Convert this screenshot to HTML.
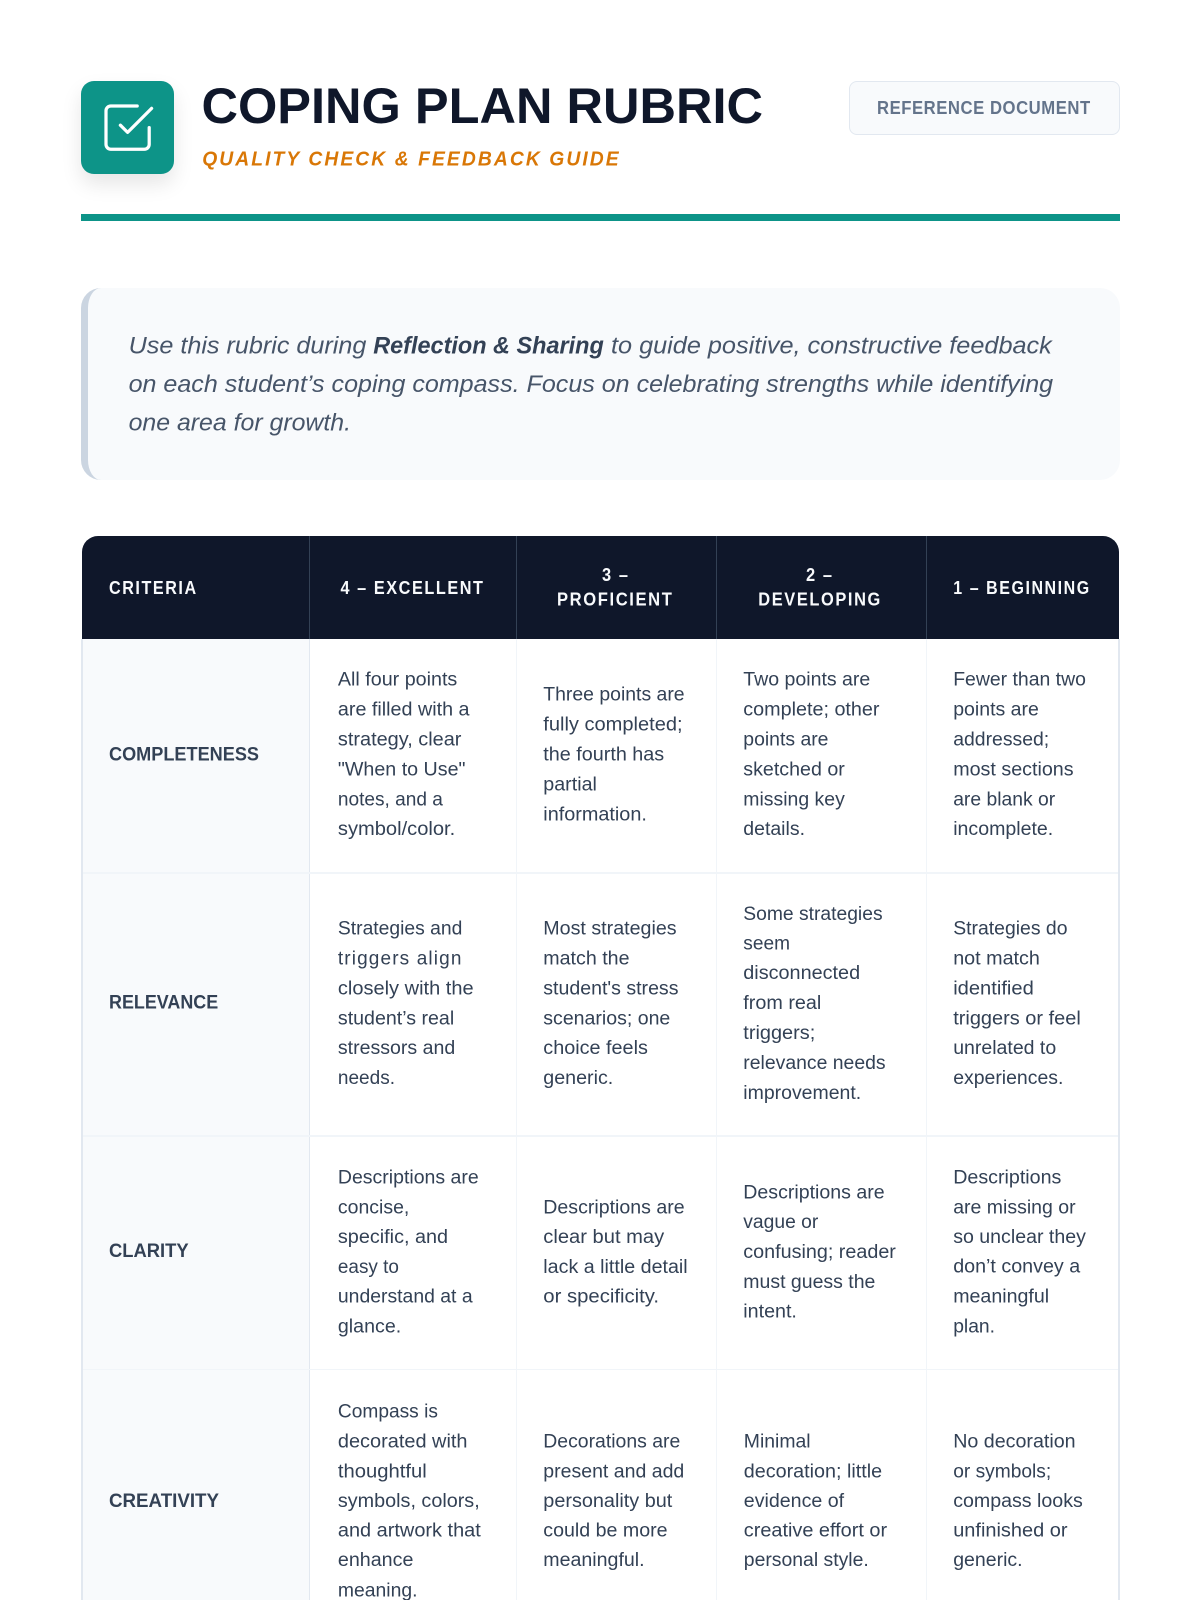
<!DOCTYPE html>
<html lang="en"><head><meta charset="utf-8"><title>Coping Plan Rubric</title>
<style>
html,body{margin:0;padding:0;background:#fff;width:1200px;height:1600px;overflow:hidden}
#p{position:relative;width:1200px;height:1600px;overflow:hidden}
#p div{position:absolute;box-sizing:border-box}
svg{position:absolute;left:0;top:0}
text{font-family:"Liberation Sans",sans-serif}
.b{font-size:19px;fill:#334155}
.l{font-size:19px;font-weight:700;fill:#334155}
.h{font-size:18.5px;font-weight:700;fill:#f8fafc;letter-spacing:1.8px}
.i{font-size:24px;font-style:italic;fill:#475569}
</style></head><body><div id="p">
<div style="left:80.5px;top:80.5px;width:93px;height:93px;border-radius:13px;background:#0d9488;box-shadow:0 10px 20px rgba(0,0,0,.1)"></div>
<div style="left:849px;top:81px;width:271px;height:54px;border-radius:8px;background:#f8fafc;border:1.5px solid #e2e8f0"></div>
<div style="left:80.5px;top:214px;width:1039.5px;height:6.5px;background:#0d9488"></div>
<div style="left:81px;top:287.5px;width:1039px;height:192.5px;border-radius:20px;background:#f8fafc;border-left:7px solid #cbd5e1"></div>
<div style="left:82px;top:638px;width:1037px;height:962px;background:#fff"></div>
<div style="left:82px;top:638px;width:227px;height:962px;background:#f8fafc"></div>
<div style="left:82px;top:535.5px;width:1037px;height:103px;border-radius:16px 16px 0 0;background:#0f172a"></div>
<div style="left:309px;top:536px;width:1px;height:102.5px;background:#334155"></div>
<div style="left:516px;top:536px;width:1px;height:102.5px;background:#334155"></div>
<div style="left:716px;top:536px;width:1px;height:102.5px;background:#334155"></div>
<div style="left:926px;top:536px;width:1px;height:102.5px;background:#334155"></div>
<div style="left:81px;top:638.5px;width:1.5px;height:962px;background:#e2e8f0"></div>
<div style="left:1118px;top:638.5px;width:1.5px;height:962px;background:#e2e8f0"></div>
<div style="left:308.7px;top:638.5px;width:1.5px;height:962px;background:#e2e8f0"></div>
<div style="left:515.7px;top:638.5px;width:1.5px;height:962px;background:#f1f5f9"></div>
<div style="left:715.7px;top:638.5px;width:1.5px;height:962px;background:#f1f5f9"></div>
<div style="left:925.7px;top:638.5px;width:1.5px;height:962px;background:#f1f5f9"></div>
<div style="left:83px;top:872px;width:1035px;height:1.5px;background:#f1f5f9"></div>
<div style="left:83px;top:1135.3px;width:1035px;height:1.5px;background:#f1f5f9"></div>
<div style="left:83px;top:1368.5px;width:1035px;height:1.5px;background:#f1f5f9"></div>
<svg width="1200" height="1600" viewBox="0 0 1200 1600">
<g transform="translate(98.8,98.8) scale(2.4)" fill="none" stroke="#fff" stroke-width="1.35" stroke-linecap="round" stroke-linejoin="round"><polyline points="9 11 12 14 22 4"/><path d="M21 12v7a2 2 0 0 1-2 2H5a2 2 0 0 1-2-2V5a2 2 0 0 1 2-2h11"/></g>
<text x="201.5" y="123" textLength="561.5" lengthAdjust="spacingAndGlyphs" font-size="50" font-weight="700" fill="#0f172a">COPING PLAN RUBRIC</text>
<text x="202.2" y="165.7" textLength="418.5" lengthAdjust="spacingAndGlyphs" font-size="20.5" font-weight="700" font-style="italic" fill="#d97706" style="letter-spacing:2.2px">QUALITY CHECK &amp; FEEDBACK GUIDE</text>
<text x="877" y="114" textLength="213.7" lengthAdjust="spacingAndGlyphs" font-size="18.5" font-weight="700" fill="#64748b" style="letter-spacing:.6px">REFERENCE DOCUMENT</text>

<text class="i" x="128.6" y="353.3" textLength="237.8" lengthAdjust="spacingAndGlyphs">Use this rubric during</text>
<text class="i" x="373.2" y="353.3" textLength="230.6" lengthAdjust="spacingAndGlyphs" font-weight="700" style="fill:#334155">Reflection &amp; Sharing</text>
<text class="i" x="611" y="353.3" textLength="440.8" lengthAdjust="spacingAndGlyphs">to guide positive, constructive feedback</text>
<text class="i" x="128.6" y="392" textLength="924.5" lengthAdjust="spacingAndGlyphs">on each student’s coping compass. Focus on celebrating strengths while identifying</text>
<text class="i" x="128.6" y="430.5" textLength="222.4" lengthAdjust="spacingAndGlyphs">one area for growth.</text>

<text class="h" x="109" y="594" textLength="88.7" lengthAdjust="spacingAndGlyphs">CRITERIA</text>
<text class="h" x="340.5" y="594" textLength="144" lengthAdjust="spacingAndGlyphs">4 – EXCELLENT</text>
<text class="h" x="602" y="581" textLength="27.6" lengthAdjust="spacingAndGlyphs">3 –</text>
<text class="h" x="557" y="605.6" textLength="116.5" lengthAdjust="spacingAndGlyphs">PROFICIENT</text>
<text class="h" x="806" y="581" textLength="27.7" lengthAdjust="spacingAndGlyphs">2 –</text>
<text class="h" x="758.3" y="605.6" textLength="123.6" lengthAdjust="spacingAndGlyphs">DEVELOPING</text>
<text class="h" x="953.3" y="594" textLength="137.4" lengthAdjust="spacingAndGlyphs">1 – BEGINNING</text>

<text class="l" x="109" y="760.6" textLength="150" lengthAdjust="spacingAndGlyphs">COMPLETENESS</text>
<text class="l" x="109" y="1008.6" textLength="109.2" lengthAdjust="spacingAndGlyphs">RELEVANCE</text>
<text class="l" x="109" y="1257" textLength="79.6" lengthAdjust="spacingAndGlyphs">CLARITY</text>
<text class="l" x="109" y="1507" textLength="110" lengthAdjust="spacingAndGlyphs">CREATIVITY</text>

<g transform="translate(-0.4,-0.7)">
<text class="b" x="338.3" y="686" textLength="119.4" lengthAdjust="spacingAndGlyphs">All four points</text>
<text class="b" x="338.3" y="716" textLength="131.6" lengthAdjust="spacingAndGlyphs">are filled with a</text>
<text class="b" x="338.3" y="746" textLength="123.5" lengthAdjust="spacingAndGlyphs">strategy, clear</text>
<text class="b" x="338.3" y="776" textLength="127.6" lengthAdjust="spacingAndGlyphs">"When to Use"</text>
<text class="b" x="338.3" y="806" textLength="105" lengthAdjust="spacingAndGlyphs">notes, and a</text>
<text class="b" x="338.3" y="835.8" textLength="117.3" lengthAdjust="spacingAndGlyphs">symbol/color.</text>

<text class="b" x="543.7" y="701" textLength="141.3" lengthAdjust="spacingAndGlyphs">Three points are</text>
<text class="b" x="543.7" y="731" textLength="139.3" lengthAdjust="spacingAndGlyphs">fully completed;</text>
<text class="b" x="543.7" y="761" textLength="120.9" lengthAdjust="spacingAndGlyphs">the fourth has</text>
<text class="b" x="543.7" y="791" textLength="53.6" lengthAdjust="spacingAndGlyphs">partial</text>
<text class="b" x="543.7" y="821" textLength="103.6" lengthAdjust="spacingAndGlyphs">information.</text>

<text class="b" x="743.7" y="686" textLength="127" lengthAdjust="spacingAndGlyphs">Two points are</text>
<text class="b" x="743.7" y="716" textLength="136.2" lengthAdjust="spacingAndGlyphs">complete; other</text>
<text class="b" x="743.7" y="746" textLength="85.2" lengthAdjust="spacingAndGlyphs">points are</text>
<text class="b" x="743.7" y="776" textLength="101.5" lengthAdjust="spacingAndGlyphs">sketched or</text>
<text class="b" x="743.7" y="806" textLength="101.5" lengthAdjust="spacingAndGlyphs">missing key</text>
<text class="b" x="743.7" y="835.8" textLength="61.7" lengthAdjust="spacingAndGlyphs">details.</text>

<text class="b" x="953.6" y="686" textLength="132.7" lengthAdjust="spacingAndGlyphs">Fewer than two</text>
<text class="b" x="953.6" y="716" textLength="85.7" lengthAdjust="spacingAndGlyphs">points are</text>
<text class="b" x="953.6" y="746" textLength="96" lengthAdjust="spacingAndGlyphs">addressed;</text>
<text class="b" x="953.6" y="776" textLength="120.4" lengthAdjust="spacingAndGlyphs">most sections</text>
<text class="b" x="953.6" y="806" textLength="102" lengthAdjust="spacingAndGlyphs">are blank or</text>
<text class="b" x="953.6" y="835.8" textLength="100" lengthAdjust="spacingAndGlyphs">incomplete.</text>

<text class="b" x="338.3" y="935" textLength="124.5" lengthAdjust="spacingAndGlyphs">Strategies and</text>
<text class="b" x="338.3" y="965" textLength="123.5" lengthAdjust="spacing">triggers align</text>
<text class="b" x="338.3" y="995" textLength="135.7" lengthAdjust="spacingAndGlyphs">closely with the</text>
<text class="b" x="338.3" y="1025" textLength="116.3" lengthAdjust="spacingAndGlyphs">student’s real</text>
<text class="b" x="338.3" y="1054.8" textLength="117.3" lengthAdjust="spacingAndGlyphs">stressors and</text>
<text class="b" x="338.3" y="1084.6" textLength="57.1" lengthAdjust="spacingAndGlyphs">needs.</text>

<text class="b" x="543.7" y="935" textLength="133.3" lengthAdjust="spacingAndGlyphs">Most strategies</text>
<text class="b" x="543.7" y="965" textLength="86.2" lengthAdjust="spacingAndGlyphs">match the</text>
<text class="b" x="543.7" y="995" textLength="135.2" lengthAdjust="spacingAndGlyphs">student's stress</text>
<text class="b" x="543.7" y="1025" textLength="127" lengthAdjust="spacingAndGlyphs">scenarios; one</text>
<text class="b" x="543.7" y="1054.8" textLength="104.6" lengthAdjust="spacingAndGlyphs">choice feels</text>
<text class="b" x="543.7" y="1084.6" textLength="70" lengthAdjust="spacingAndGlyphs">generic.</text>

<text class="b" x="743.7" y="920.5" textLength="139.3" lengthAdjust="spacingAndGlyphs">Some strategies</text>
<text class="b" x="743.7" y="950" textLength="46.7" lengthAdjust="spacingAndGlyphs">seem</text>
<text class="b" x="743.7" y="979.8" textLength="116.8" lengthAdjust="spacingAndGlyphs">disconnected</text>
<text class="b" x="743.7" y="1009.7" textLength="78" lengthAdjust="spacingAndGlyphs">from real</text>
<text class="b" x="743.7" y="1039.6" textLength="72" lengthAdjust="spacingAndGlyphs">triggers;</text>
<text class="b" x="743.7" y="1069.6" textLength="142.3" lengthAdjust="spacingAndGlyphs">relevance needs</text>
<text class="b" x="743.7" y="1099.5" textLength="117.9" lengthAdjust="spacingAndGlyphs">improvement.</text>

<text class="b" x="953.6" y="935" textLength="114.3" lengthAdjust="spacingAndGlyphs">Strategies do</text>
<text class="b" x="953.6" y="965" textLength="86.7" lengthAdjust="spacingAndGlyphs">not match</text>
<text class="b" x="953.6" y="995" textLength="80.6" lengthAdjust="spacingAndGlyphs">identified</text>
<text class="b" x="953.6" y="1025" textLength="127.6" lengthAdjust="spacingAndGlyphs">triggers or feel</text>
<text class="b" x="953.6" y="1054.8" textLength="103" lengthAdjust="spacingAndGlyphs">unrelated to</text>
<text class="b" x="953.6" y="1084.6" textLength="110.2" lengthAdjust="spacingAndGlyphs">experiences.</text>

<text class="b" x="338.3" y="1184" textLength="140.8" lengthAdjust="spacingAndGlyphs">Descriptions are</text>
<text class="b" x="338.3" y="1214" textLength="71.4" lengthAdjust="spacingAndGlyphs">concise,</text>
<text class="b" x="338.3" y="1243.5" textLength="110.2" lengthAdjust="spacingAndGlyphs">specific, and</text>
<text class="b" x="338.3" y="1273.5" textLength="61" lengthAdjust="spacingAndGlyphs">easy to</text>
<text class="b" x="338.3" y="1303.4" textLength="134.7" lengthAdjust="spacingAndGlyphs">understand at a</text>
<text class="b" x="338.3" y="1333.3" textLength="63.3" lengthAdjust="spacingAndGlyphs">glance.</text>

<text class="b" x="543.7" y="1214" textLength="141.3" lengthAdjust="spacingAndGlyphs">Descriptions are</text>
<text class="b" x="543.7" y="1243.5" textLength="120.9" lengthAdjust="spacingAndGlyphs">clear but may</text>
<text class="b" x="543.7" y="1273.5" textLength="144.4" lengthAdjust="spacingAndGlyphs">lack a little detail</text>
<text class="b" x="543.7" y="1303.4" textLength="115.8" lengthAdjust="spacingAndGlyphs">or specificity.</text>

<text class="b" x="743.7" y="1199" textLength="141.3" lengthAdjust="spacingAndGlyphs">Descriptions are</text>
<text class="b" x="743.7" y="1228.5" textLength="75" lengthAdjust="spacingAndGlyphs">vague or</text>
<text class="b" x="743.7" y="1258.5" textLength="152.6" lengthAdjust="spacingAndGlyphs">confusing; reader</text>
<text class="b" x="743.7" y="1288.5" textLength="132.1" lengthAdjust="spacingAndGlyphs">must guess the</text>
<text class="b" x="743.7" y="1318" textLength="53.6" lengthAdjust="spacingAndGlyphs">intent.</text>

<text class="b" x="953.6" y="1184" textLength="108.2" lengthAdjust="spacingAndGlyphs">Descriptions</text>
<text class="b" x="953.6" y="1214" textLength="122.4" lengthAdjust="spacingAndGlyphs">are missing or</text>
<text class="b" x="953.6" y="1243.5" textLength="132.7" lengthAdjust="spacingAndGlyphs">so unclear they</text>
<text class="b" x="953.6" y="1273" textLength="127" lengthAdjust="spacingAndGlyphs">don’t convey a</text>
<text class="b" x="953.6" y="1303.4" textLength="95.9" lengthAdjust="spacingAndGlyphs">meaningful</text>
<text class="b" x="953.6" y="1333.3" textLength="41.8" lengthAdjust="spacingAndGlyphs">plan.</text>

<text class="b" x="338.3" y="1418" textLength="100" lengthAdjust="spacingAndGlyphs">Compass is</text>
<text class="b" x="338.3" y="1448" textLength="129.6" lengthAdjust="spacingAndGlyphs">decorated with</text>
<text class="b" x="338.3" y="1478" textLength="88.8" lengthAdjust="spacingAndGlyphs">thoughtful</text>
<text class="b" x="338.3" y="1507.6" textLength="141.8" lengthAdjust="spacingAndGlyphs">symbols, colors,</text>
<text class="b" x="338.3" y="1537" textLength="142.9" lengthAdjust="spacingAndGlyphs">and artwork that</text>
<text class="b" x="338.3" y="1566.8" textLength="75.5" lengthAdjust="spacingAndGlyphs">enhance</text>
<text class="b" x="338.3" y="1597" textLength="79.6" lengthAdjust="spacingAndGlyphs">meaning.</text>

<text class="b" x="543.7" y="1448" textLength="137" lengthAdjust="spacingAndGlyphs">Decorations are</text>
<text class="b" x="543.7" y="1478" textLength="141" lengthAdjust="spacingAndGlyphs">present and add</text>
<text class="b" x="543.7" y="1507.6" textLength="129" lengthAdjust="spacingAndGlyphs">personality but</text>
<text class="b" x="543.7" y="1537" textLength="124.3" lengthAdjust="spacingAndGlyphs">could be more</text>
<text class="b" x="543.7" y="1566.8" textLength="101.3" lengthAdjust="spacingAndGlyphs">meaningful.</text>

<text class="b" x="744.2" y="1448" textLength="66.8" lengthAdjust="spacingAndGlyphs">Minimal</text>
<text class="b" x="744.2" y="1478" textLength="138.3" lengthAdjust="spacingAndGlyphs">decoration; little</text>
<text class="b" x="744.2" y="1507.6" textLength="100.3" lengthAdjust="spacingAndGlyphs">evidence of</text>
<text class="b" x="744.2" y="1537" textLength="143.3" lengthAdjust="spacingAndGlyphs">creative effort or</text>
<text class="b" x="744.2" y="1566.8" textLength="125" lengthAdjust="spacingAndGlyphs">personal style.</text>

<text class="b" x="953.6" y="1448" textLength="122.4" lengthAdjust="spacingAndGlyphs">No decoration</text>
<text class="b" x="953.6" y="1478" textLength="98" lengthAdjust="spacingAndGlyphs">or symbols;</text>
<text class="b" x="953.6" y="1507.6" textLength="129.6" lengthAdjust="spacingAndGlyphs">compass looks</text>
<text class="b" x="953.6" y="1537" textLength="114.3" lengthAdjust="spacingAndGlyphs">unfinished or</text>
<text class="b" x="953.6" y="1566.8" textLength="69.4" lengthAdjust="spacingAndGlyphs">generic.</text>
</g>
</svg>
</div></body></html>
